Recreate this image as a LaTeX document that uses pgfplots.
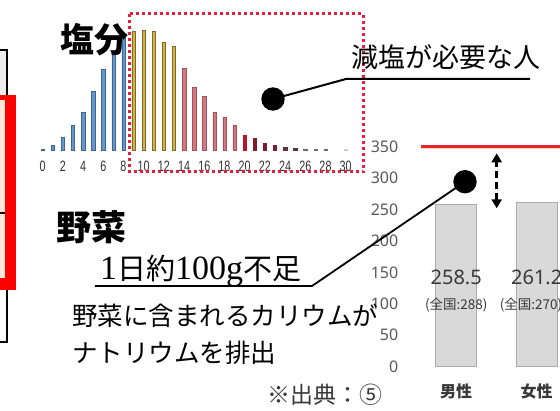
\documentclass[border=0pt]{standalone}
\usepackage{pgfplots}
\pgfplotsset{compat=1.18}
\usetikzlibrary{arrows.meta}
\usepackage{fontspec}
\setmainfont{Noto Sans CJK JP}
\newfontfamily\jp{Noto Sans CJK JP}
\newfontfamily\nsans{Noto Sans}
\newfontfamily\cond[FakeStretch=0.72]{Liberation Sans}
\newfontfamily\serif{Liberation Serif}
\definecolor{hblue}{HTML}{6396CB}
\definecolor{hbluedk}{HTML}{3F6690}
\definecolor{hgold}{HTML}{D8B23E}
\definecolor{hgolddk}{HTML}{7D6A2C}
\definecolor{hpink}{HTML}{D27680}
\definecolor{hpinkdk}{HTML}{A4525C}
\definecolor{hred}{HTML}{B3182A}
\definecolor{hdred}{HTML}{7C1F2C}
\definecolor{hbrown}{HTML}{5E3038}
\definecolor{hgray}{HTML}{6A6A6A}
\definecolor{dotred}{HTML}{E0203C}
\definecolor{pinkfill}{HTML}{FCE6DA}
\definecolor{barg}{HTML}{D9D9D9}
\definecolor{bargd}{HTML}{ABABAB}
\definecolor{txtg}{HTML}{383838}
\definecolor{tickg}{HTML}{595959}
\definecolor{redline}{HTML}{E8262A}
\definecolor{shadowc}{HTML}{F7D2B4}
\begin{document}
\begin{tikzpicture}[x=1pt,y=1pt]
\useasboundingbox (0,0) rectangle (560,410);
\clip (0,0) rectangle (560,410);
% left edge decorations
\fill[black!7] (0,315) rectangle (7,360);
\draw[line width=2.5pt] (0,360) -- (7,360) -- (7,315);
\fill[red] (0,120) rectangle (16,315);
\fill[pinkfill] (0,132) rectangle (5,309.5);
\draw[line width=2pt] (0,196.7) -- (5,196.7);
\draw[line width=2.5pt] (7,120) -- (7,68) -- (0,68);

% histogram
\begin{axis}[at={(32.6pt,259.3pt)}, anchor=south west, scale only axis,
  width=323.2pt, height=140pt, xmin=-1, xmax=31, ymin=0, ymax=140,
  axis x line=bottom, axis y line=none, axis line style={draw=none},
  tick style={draw=none}, ytick=\empty,
  xtick={0,2,...,30},
  /pgf/number format/assume math mode=true,
  xticklabel style={font=\cond\fontsize{15}{15}\selectfont, text=black!80, yshift=-5pt},
  clip=false]
\addplot[ybar, bar shift=0pt, bar width=3.3pt, fill=hblue, draw=hbluedk, line width=0.4pt]
 coordinates {(0,1.5) (1,5) (2,13) (3,25) (4,38) (5,59) (6,81) (7,98) (8,114)};
\addplot[ybar, bar shift=0pt, bar width=3.3pt, fill=hgold, draw=hgolddk, line width=0.4pt]
 coordinates {(9,119) (10,120) (11,119) (12,108) (13,104)};
\addplot[ybar, bar shift=0pt, bar width=3.3pt, fill=hpink, draw=hpinkdk, line width=0.4pt]
 coordinates {(14,82) (15,63) (16,54) (17,38) (18,33) (19,25)};
\addplot[ybar, bar shift=0pt, bar width=3.3pt, fill=hred, draw=hred, line width=0.4pt]
 coordinates {(20,15)};
\addplot[ybar, bar shift=0pt, bar width=3.3pt, fill=hdred, draw=hdred, line width=0.4pt]
 coordinates {(21,12) (22,7) (23,5.5)};
\addplot[ybar, bar shift=0pt, bar width=3.3pt, fill=hbrown, draw=hbrown, line width=0.4pt]
 coordinates {(24,3.5) (25,2)};
\addplot[ybar, bar shift=0pt, bar width=3.3pt, fill=hgray, draw=hgray, line width=0.4pt]
 coordinates {(26,1.5) (27,1.5) (28,1.2)};
\addplot[ybar, bar shift=0pt, bar width=3.3pt, fill=black!20, draw=black!20, line width=0.4pt]
 coordinates {(30,1)};
\end{axis}

% vegetable bar chart
\begin{axis}[at={(415.95pt,43.3pt)}, anchor=south west, scale only axis,
  width=161pt, height=220pt, xmin=-0.5, xmax=1.5, ymin=0, ymax=350,
  axis lines=left, axis line style={draw=none}, tick style={draw=none},
  ytick={0,50,...,350}, xtick={0,1}, xticklabels={男性,女性},
  /pgf/number format/assume math mode=true,
  yticklabel style={font=\nsans\fontsize{16}{16}\selectfont, text=tickg, xshift=-12pt},
  xticklabel style={font=\jp\bfseries\fontsize{16}{16}\selectfont, text=txtg, yshift=-11pt},
  clip=false]
\addplot[ybar, bar shift=0pt, bar width=41pt, fill=barg, draw=bargd, line width=0.6pt]
 coordinates {(0,258.5) (1,261.2)};
\node[font=\nsans\fontsize{20}{20}\selectfont, text=txtg] at (axis cs:0,142.7) {258.5};
\node[font=\nsans\fontsize{20}{20}\selectfont, text=txtg] at (axis cs:1,142.7) {261.2};
\node[font=\jp\fontsize{13.5}{13.5}\selectfont, text=txtg] at (axis cs:0,98) {(全国:288)};
\node[font=\jp\fontsize{13.5}{13.5}\selectfont, text=txtg] at (axis cs:0.93,98) {(全国:270)};
\draw[line width=1.5pt, shadowc] (axis cs:-0.44,347) -- (axis cs:1.6,347);
\draw[line width=2.5pt, redline] (axis cs:-0.44,350) -- (axis cs:1.6,350);
\end{axis}

% salt annotations
\node[anchor=west, inner sep=0, font=\jp\bfseries\fontsize{34}{34}\selectfont] at (60,370) {塩分};
\draw[dotred, line width=3pt, dash pattern=on 3pt off 3pt] (129.5,396) rectangle (363.3,238);
\node[anchor=west, inner sep=0, font=\jp\fontsize{27}{27}\selectfont] at (351,352.5) {減塩が必要な人};
\draw[line width=2pt] (273,311) -- (346,331) -- (530,331);
\fill (273,311) circle (11.7);

% vegetable annotations
\node[anchor=west, inner sep=0, font=\jp\bfseries\fontsize{35}{35}\selectfont] at (56,183) {野菜};
\node[anchor=base west, inner sep=0, font=\jp\fontsize{29}{29}\selectfont] at (100,130) {{\serif\fontsize{34}{34}\selectfont 1}日約{\serif\fontsize{34}{34}\selectfont 100g}不足};
\draw[line width=1.8pt] (95,124) -- (312,124) -- (465,228.3);
\fill (465,228.3) circle (11.7);
\node[anchor=west, inner sep=0, font=\jp\fontsize{25.5}{25.5}\selectfont] at (72,94) {野菜に含まれるカリウムが};
\node[anchor=west, inner sep=0, font=\jp\fontsize{25.5}{25.5}\selectfont] at (72,57) {ナトリウムを排出};
\node[anchor=west, inner sep=0, font=\jp\fontsize{23}{23}\selectfont, text=txtg] at (267,15) {※出典：⑤};
\draw[line width=3pt, dash pattern=on 7pt off 4pt, {Triangle[width=10pt,length=9pt]}-{Triangle[width=10pt,length=9pt]}] (496.7,201.7) -- (496.7,256.7);
\end{tikzpicture}
\end{document}
